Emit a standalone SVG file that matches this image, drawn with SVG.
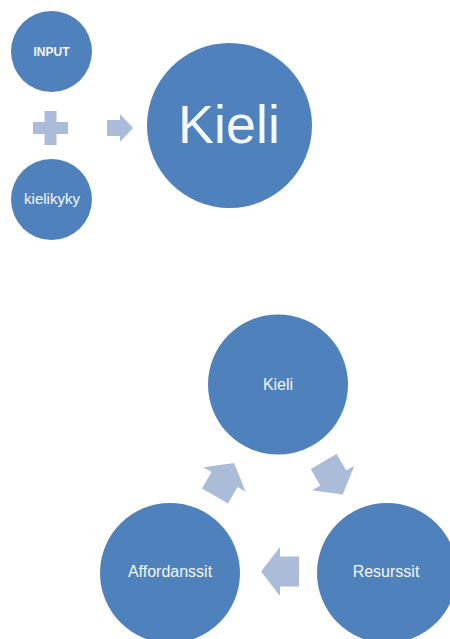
<svg xmlns="http://www.w3.org/2000/svg" width="450" height="639" viewBox="0 0 450 639">
  <style>
    .node { fill: #4f81bd; }
    .conn { fill: #abbcd9; }
    .lbl { fill: #f4f7fb; font-family: "Liberation Sans", Arial, sans-serif; text-anchor: middle; }
  </style>
  <defs>
    <polygon id="bigArrow" points="-19,-15 0,-15 0,-24.5 19,0 0,24.5 0,15 -19,15"/>
  </defs>
  <rect width="450" height="639" fill="#ffffff"/>

  <g id="connectors">
    <g id="plus">
      <polygon class="conn" points="44.5,111 56.5,111 56.5,122 68,122 68,134 56.5,134 56.5,145 44.5,145 44.5,134 33,134 33,122 44.5,122"/>
    </g>
    <g id="arrow-top">
      <polygon class="conn" points="107,120 120,120 120,114 133,128 120,142 120,136 107,136"/>
    </g>
    <g id="arrow-kieli-resurssit">
      <use href="#bigArrow" class="conn" transform="translate(333.2,478) rotate(60)"/>
    </g>
    <g id="arrow-resurssit-affordanssit">
      <use href="#bigArrow" class="conn" transform="translate(280,571.5) rotate(180)"/>
    </g>
    <g id="arrow-affordanssit-kieli">
      <use href="#bigArrow" class="conn" transform="translate(224.5,479.5) rotate(-60)"/>
    </g>
  </g>

  <g id="node-input">
    <circle class="node" cx="51.5" cy="51.5" r="40.5"/>
    <text class="lbl" x="51.5" y="56" font-size="12" font-weight="bold">INPUT</text>
  </g>
  <g id="node-kielikyky">
    <circle class="node" cx="51.5" cy="199.5" r="40.5"/>
    <text class="lbl" x="52" y="204" font-size="15">kielikyky</text>
  </g>
  <g id="node-kieli-big">
    <circle class="node" cx="229.5" cy="125.5" r="82.5"/>
    <text class="lbl" x="229" y="143" font-size="54">Kieli</text>
  </g>

  <g id="node-kieli">
    <circle class="node" cx="278" cy="384.5" r="70"/>
    <text class="lbl" x="278" y="390" font-size="16">Kieli</text>
  </g>
  <g id="node-resurssit">
    <circle class="node" cx="387" cy="573" r="70"/>
    <text class="lbl" x="386" y="577" font-size="16">Resurssit</text>
  </g>
  <g id="node-affordanssit">
    <circle class="node" cx="170" cy="573" r="70"/>
    <text class="lbl" x="170" y="577" font-size="16">Affordanssit</text>
  </g>
</svg>
